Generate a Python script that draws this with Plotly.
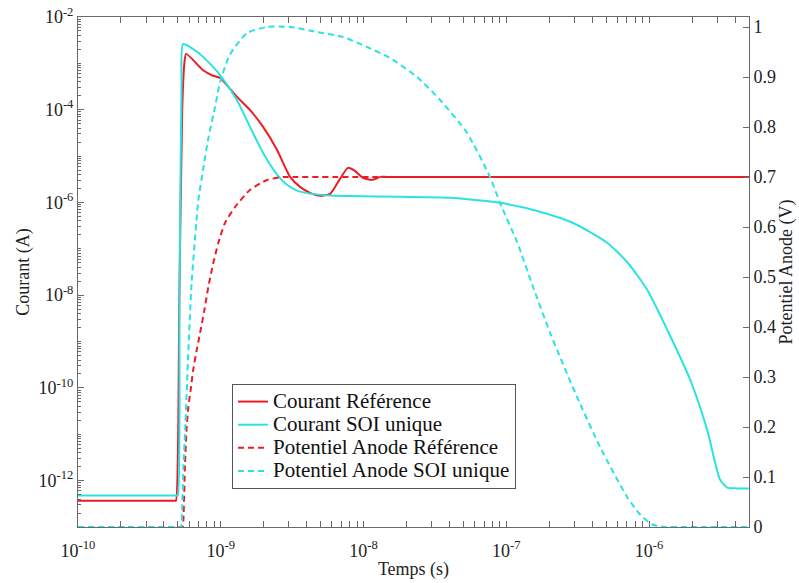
import plotly.graph_objects as go

# ---------------- data ----------------
t_cur_ref = [1e-10, 4.41e-10, 4.79e-10, 4.86e-10, 5.13e-10, 5.37e-10, 5.56e-10, 5.72e-10,
             7.52e-10, 8.83e-10, 9.89e-10, 1.30e-9, 1.60e-9, 1.98e-9, 2.48e-9, 3.06e-9,
             3.59e-9, 4.22e-9, 4.95e-9, 5.82e-9, 6.84e-9, 7.78e-9, 8.71e-9, 9.91e-9,
             1.15e-8, 1.31e-8, 1.45e-8, 5.0e-6]
i_cur_ref = [3.7e-13, 3.7e-13, 3.7e-13, 3.7e-13, 1e-8, 1e-4, 1e-3, 1.6e-3,
             7.1e-4, 5.4e-4, 4.84e-4, 1.89e-4, 9.9e-5, 4.26e-5, 1.36e-5, 3.56e-6,
             2.17e-6, 1.61e-6, 1.39e-6, 1.53e-6, 3.23e-6, 5.57e-6, 4.80e-6, 3.39e-6,
             3.07e-6, 3.56e-6, 3.56e-6, 3.56e-6]

t_cur_soi = [1e-10, 4.41e-10, 4.93e-10, 5.01e-10, 5.14e-10, 5.31e-10, 5.45e-10, 6.82e-10,
             7.52e-10, 9.89e-10, 1.30e-9, 1.60e-9, 1.98e-9, 2.48e-9, 2.91e-9, 3.42e-9,
             4.22e-9, 5.82e-9, 8.04e-9, 1.80e-8, 4.04e-8, 9.04e-8, 1.72e-7, 2.94e-7,
             5.08e-7, 7.02e-7, 9.68e-7, 1.34e-6, 1.94e-6, 2.55e-6, 3.14e-6, 3.52e-6,
             4.13e-6, 5.0e-6]
i_cur_soi = [4.8e-13, 4.8e-13, 4.8e-13, 4.8e-13, 1e-8, 3.2e-4, 2.6e-3, 1.78e-3,
             1.38e-3, 5.6e-4, 1.6e-4, 4.3e-5, 1.17e-5, 4.0e-6, 2.4e-6, 1.8e-6,
             1.55e-6, 1.41e-6, 1.38e-6, 1.32e-6, 1.26e-6, 9.8e-7, 6.3e-7, 3.6e-7,
             1.35e-7, 5.2e-8, 1.32e-8, 1.8e-9, 1.5e-10, 1.26e-11, 1.05e-12, 7.1e-13,
             6.8e-13, 6.8e-13]

t_pot_ref = [1e-10, 4.86e-10, 5.40e-10, 5.47e-10, 5.62e-10, 5.77e-10, 5.93e-10, 6.19e-10,
             6.41e-10, 6.79e-10, 7.16e-10, 7.68e-10, 8.18e-10, 8.87e-10, 9.61e-10, 1.07e-9,
             1.26e-9, 1.60e-9, 2.11e-9, 2.73e-9, 3.2e-9, 5.0e-6]
v_pot_ref = [0.0, 0.0, 0.0, 0.014, 0.128, 0.20, 0.24, 0.28,
             0.314, 0.354, 0.388, 0.434, 0.48, 0.528, 0.568, 0.608,
             0.64, 0.674, 0.694, 0.70, 0.70, 0.70]

t_pot_soi = [1e-10, 4.79e-10, 5.27e-10, 5.32e-10, 5.47e-10, 5.62e-10, 5.77e-10, 5.93e-10,
             6.25e-10, 6.79e-10, 6.97e-10, 7.52e-10, 8.15e-10, 9.12e-10, 9.89e-10, 1.16e-9,
             1.53e-9, 2.11e-9, 3.06e-9, 4.72e-9, 7.18e-9, 1.06e-8, 1.53e-8, 2.37e-8,
             3.44e-8, 5.31e-8, 7.69e-8, 9.04e-8, 1.19e-7, 1.54e-7, 2.03e-7, 3.13e-7,
             4.54e-7, 7.02e-7, 8.65e-7, 1.05e-6, 1.29e-6, 1.4e-6, 5.0e-6]
v_pot_soi = [0.0, 0.0, 0.0, 0.008, 0.12, 0.188, 0.268, 0.354,
             0.488, 0.62, 0.654, 0.715, 0.775, 0.84, 0.89, 0.945,
             0.988, 1.0, 1.0, 0.99, 0.98, 0.96, 0.938, 0.90,
             0.854, 0.788, 0.70, 0.648, 0.57, 0.48, 0.388, 0.26,
             0.16, 0.06, 0.025, 0.005, 0.0, 0.0, 0.0]

names = ["Courant Référence", "Courant SOI unique",
         "Potentiel Anode Référence", "Potentiel Anode SOI unique"]

x_tick_vals = [1e-10, 1e-9, 1e-8, 1e-7, 1e-6]
x_tick_text = ["10<sup>-10</sup>", "10<sup>-9</sup>", "10<sup>-8</sup>",
               "10<sup>-7</sup>", "10<sup>-6</sup>"]
y_tick_vals = [1e-12, 1e-10, 1e-8, 1e-6, 1e-4, 1e-2]
y_tick_text = ["10<sup>-12</sup>", "10<sup>-10</sup>", "10<sup>-8</sup>",
               "10<sup>-6</sup>", "10<sup>-4</sup>", "10<sup>-2</sup>"]
y2_tick_vals = [0, 0.1, 0.2, 0.3, 0.4, 0.5, 0.6, 0.7, 0.8, 0.9, 1.0]
y2_tick_text = ["0", "0.1", "0.2", "0.3", "0.4", "0.5", "0.6", "0.7", "0.8", "0.9", "1"]

# ---------------- style ----------------
RED = "#ec1c24"
CYAN = "#2ae2e2"
FONT = '"Liberation Serif", "Times New Roman", Times, serif'
AXC = "#6a6a6a"

x_minor = [m * 10.0 ** e for e in range(-10, -5) for m in range(2, 10)]
y_minor = [m * 10.0 ** e for e in range(-13, -2) for m in range(1, 10)]


def leg(s):
    return '<span style="font-size:21px">' + s + '</span>'


def line(color, dash=None):
    d = dict(color=color, width=2, shape="spline", smoothing=0.6)
    if dash:
        d["dash"] = dash
    return d


fig = go.Figure()
fig.add_trace(go.Scatter(x=t_cur_ref, y=i_cur_ref, mode="lines", name=leg(names[0]),
                         line=line(RED), yaxis="y"))
fig.add_trace(go.Scatter(x=t_cur_soi, y=i_cur_soi, mode="lines", name=leg(names[1]),
                         line=line(CYAN), yaxis="y"))
fig.add_trace(go.Scatter(x=t_pot_ref, y=v_pot_ref, mode="lines", name=leg(names[2]),
                         line=line(RED, "6px,4px"), yaxis="y2"))
fig.add_trace(go.Scatter(x=t_pot_soi, y=v_pot_soi, mode="lines", name=leg(names[3]),
                         line=line(CYAN, "6px,4px"), yaxis="y2"))

fig.update_layout(
    width=799, height=583,
    margin=dict(l=78, r=50, t=17, b=56, autoexpand=False),
    paper_bgcolor="white", plot_bgcolor="white",
    font=dict(family=FONT, size=18, color="#222"),
    xaxis=dict(
        type="log", range=[-10, -5.3], automargin=False,
        tickmode="array", tickvals=x_tick_vals, ticktext=x_tick_text,
        ticks="inside", ticklen=6, tickcolor=AXC, ticklabelstandoff=7,
        minor=dict(tickmode="array", tickvals=x_minor, ticks="inside", ticklen=3,
                   tickcolor=AXC, showgrid=False),
        showline=True, linecolor=AXC, linewidth=1, mirror="allticks",
        showgrid=False, zeroline=False,
        title=dict(text="Temps (s)", standoff=2, font=dict(size=18)),
        tickfont=dict(size=18),
    ),
    yaxis=dict(
        type="log", range=[-13, -2], automargin=False,
        tickmode="array", tickvals=y_tick_vals, ticktext=y_tick_text,
        ticks="inside", ticklen=6, tickcolor=AXC,
        minor=dict(tickmode="array", tickvals=y_minor, ticks="inside", ticklen=3,
                   tickcolor=AXC, showgrid=False),
        showline=True, linecolor=AXC, linewidth=1,
        showgrid=False, zeroline=False,
        title=dict(text="Courant (A)", standoff=4, font=dict(size=18)),
        tickfont=dict(size=18),
    ),
    yaxis2=dict(
        overlaying="y", side="right", range=[0, 1.02], automargin=False,
        tickmode="array", tickvals=y2_tick_vals, ticktext=y2_tick_text,
        ticks="inside", ticklen=6, tickcolor=AXC,
        showline=True, linecolor=AXC, linewidth=1,
        showgrid=False, zeroline=False,
        title=dict(text="Potentiel Anode (V)", standoff=2, font=dict(size=18)),
        tickfont=dict(size=18),
    ),
    legend=dict(
        x=0.2295, y=0.2804, xanchor="left", yanchor="top",
        bgcolor="white", bordercolor="#555", borderwidth=1,
        font=dict(family=FONT, size=15.5, color="#111"),
        tracegroupgap=0, itemwidth=30,
    ),
    showlegend=True,
)

fig.write_html("out.html", config={"displayModeBar": False},
               post_script="document.body.style.margin='0';document.body.style.overflow='hidden';")
